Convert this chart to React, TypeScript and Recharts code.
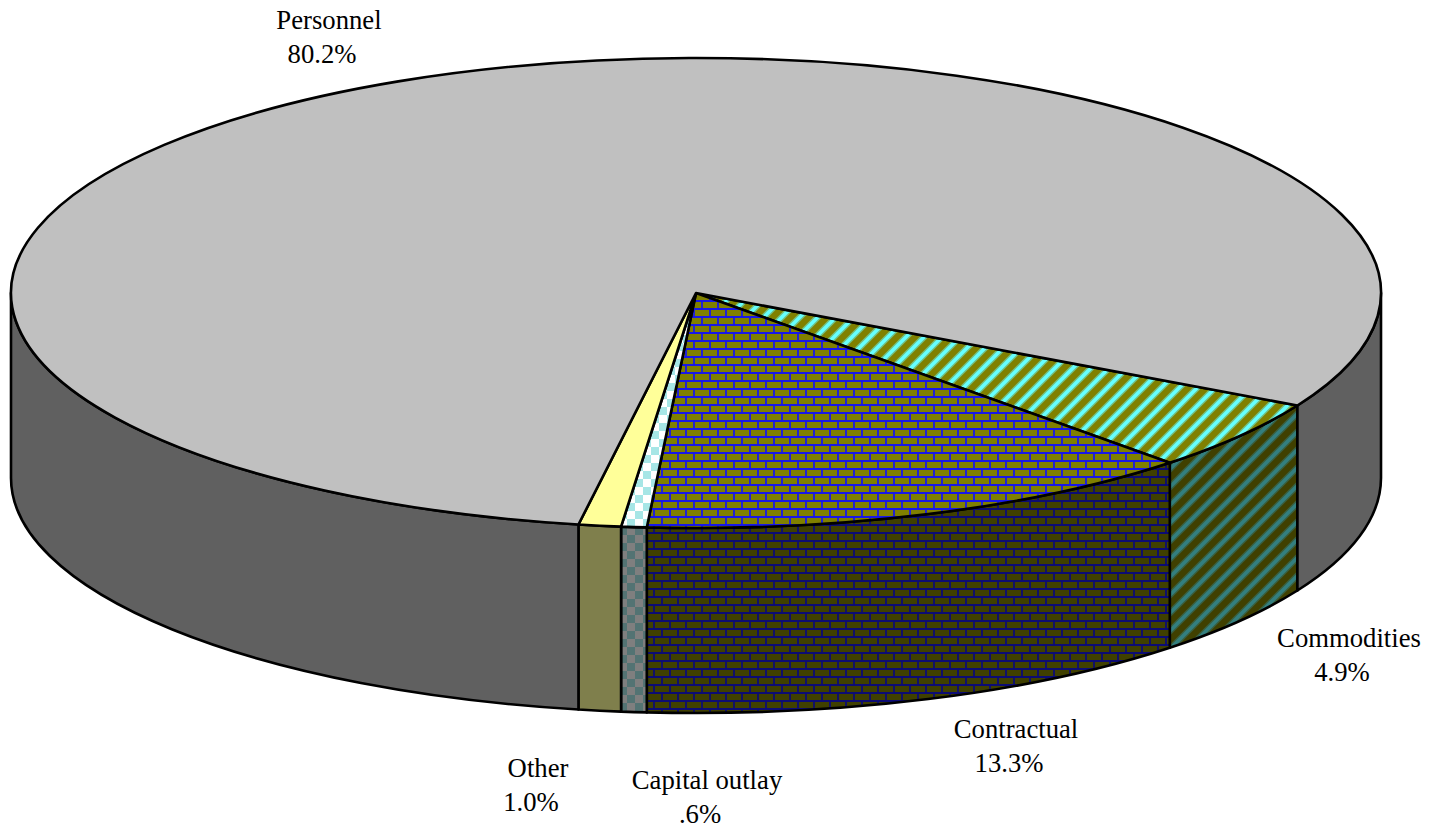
import { Pie, PieChart } from "recharts";

const categories = ["Commodities", "Contractual", "Capital outlay", "Other", "Personnel"];
const shares = [4.9, 13.3, 0.6, 1.0, 80.2];
const shareLabels = ["4.9%", "13.3%", ".6%", "1.0%", "80.2%"];
const sliceFills = ["url(#stripes)", "url(#bricks)", "url(#checks)", "#FFFF99", "#C0C0C0"];
const labelCenters = [
  [1349, 638],
  [1016, 729],
  [707, 780],
  [538, 768],
  [329, 20],
];

const WIDTH = 1432;
const HEIGHT = 829;
const CX = 696;
const CY = 293;
const RADIUS = 685;
const SQUASH = 235 / 685;
const DEPTH = 185;
const START = -28.6;
const LINE = 2.6;

const tableData = categories.map((name, i) => ({
  name,
  value: shares[i],
  fill: sliceFills[i],
}));

// recharts angles run counter-clockwise, so below the centre they are negative
function pt(angle: number, drop = 0) {
  const rad = (angle * Math.PI) / 180;
  return `${CX + RADIUS * Math.cos(rad)} ${CY - RADIUS * SQUASH * Math.sin(rad) + drop}`;
}

function arc(to: string, sweep: number, large = 0) {
  return `A ${RADIUS} ${RADIUS * SQUASH} 0 ${large} ${sweep} ${to}`;
}

function TopSlice(props: any) {
  const { startAngle, endAngle, fill } = props;
  const large = Math.abs(endAngle - startAngle) > 180 ? 1 : 0;
  const d = `M ${CX} ${CY} L ${pt(startAngle)} ${arc(pt(endAngle), 1, large)} Z`;
  return <path d={d} fill={fill} stroke="#000" strokeWidth={LINE} strokeLinejoin="round" />;
}

function WallSlice(props: any) {
  const { startAngle, endAngle, fill } = props;
  // the wall only shows on the front half, between 0 and -180 (and -360 to -540)
  const spans: [number, number][] = [];
  for (const [lo, hi] of [[-180, 0], [-540, -360]]) {
    const a = Math.min(startAngle, hi);
    const b = Math.max(endAngle, lo);
    if (a > b) spans.push([a, b]);
  }
  return (
    <g>
      {spans.map(([a, b]) => {
        const d = `M ${pt(a)} ${arc(pt(b), 1)} L ${pt(b, DEPTH)} ${arc(pt(a, DEPTH), 0)} Z`;
        return (
          <g key={a}>
            <path d={d} fill={fill} />
            <path d={d} fill="#000" fillOpacity={0.5} stroke="#000" strokeWidth={LINE} strokeLinejoin="round" />
          </g>
        );
      })}
    </g>
  );
}

function SliceLabel({ index }: any) {
  const [x, y] = labelCenters[index];
  return (
    <text x={x} y={y} textAnchor="middle" fontFamily="'Liberation Serif', serif" fontSize={26.7} fill="#000">
      <tspan x={x} dy={9}>{categories[index]}</tspan>
      {/* second line sits a trailing space to the left, as in the original */}
      <tspan x={x - 7} dy={34}>{shareLabels[index]}</tspan>
    </text>
  );
}

export default function App() {
  return (
    <div style={{ position: "absolute", left: 0, top: 0, width: WIDTH, height: HEIGHT, background: "#fff" }}>
      <PieChart width={WIDTH} height={HEIGHT} margin={{ top: 0, right: 0, bottom: 0, left: 0 }}>
        <defs>
          <pattern id="stripes" patternUnits="userSpaceOnUse" width={18} height={18} patternTransform="translate(1 0)">
            <rect width={18} height={18} fill="#808000" />
            <path d="M-4 4 L4 -4 M-4 22 L22 -4 M14 22 L22 14" stroke="#73BF80" strokeWidth={6.4} />
            <path d="M-4 4 L4 -4 M-4 22 L22 -4 M14 22 L22 14" stroke="#66FFFF" strokeWidth={3.6} />
          </pattern>
          <pattern id="bricks" patternUnits="userSpaceOnUse" width={16} height={16}>
            <rect width={16} height={16} fill="#808000" />
            <path d="M0 5 H16 M0 13 H16 M6 5 V13 M14 13 V16 M14 0 V5" stroke="#1818E8" strokeWidth={1.8} />
          </pattern>
          <pattern id="checks" patternUnits="userSpaceOnUse" width={16} height={16} patternTransform="translate(11 15)">
            <rect width={16} height={16} fill="#FFFFFF" />
            <rect width={8} height={8} fill="#A6E6E6" />
            <rect x={8} y={8} width={8} height={8} fill="#A6E6E6" />
          </pattern>
        </defs>
        <Pie
          data={tableData}
          dataKey="value"
          nameKey="name"
          cx={CX}
          cy={CY}
          outerRadius={RADIUS}
          startAngle={START}
          endAngle={START - 360}
          stroke="none"
          shape={WallSlice}
          isAnimationActive={false}
        />
        <Pie
          data={tableData}
          dataKey="value"
          nameKey="name"
          cx={CX}
          cy={CY}
          outerRadius={RADIUS}
          startAngle={START}
          endAngle={START - 360}
          stroke="none"
          shape={TopSlice}
          label={SliceLabel}
          labelLine={false}
          isAnimationActive={false}
        />
      </PieChart>
    </div>
  );
}
